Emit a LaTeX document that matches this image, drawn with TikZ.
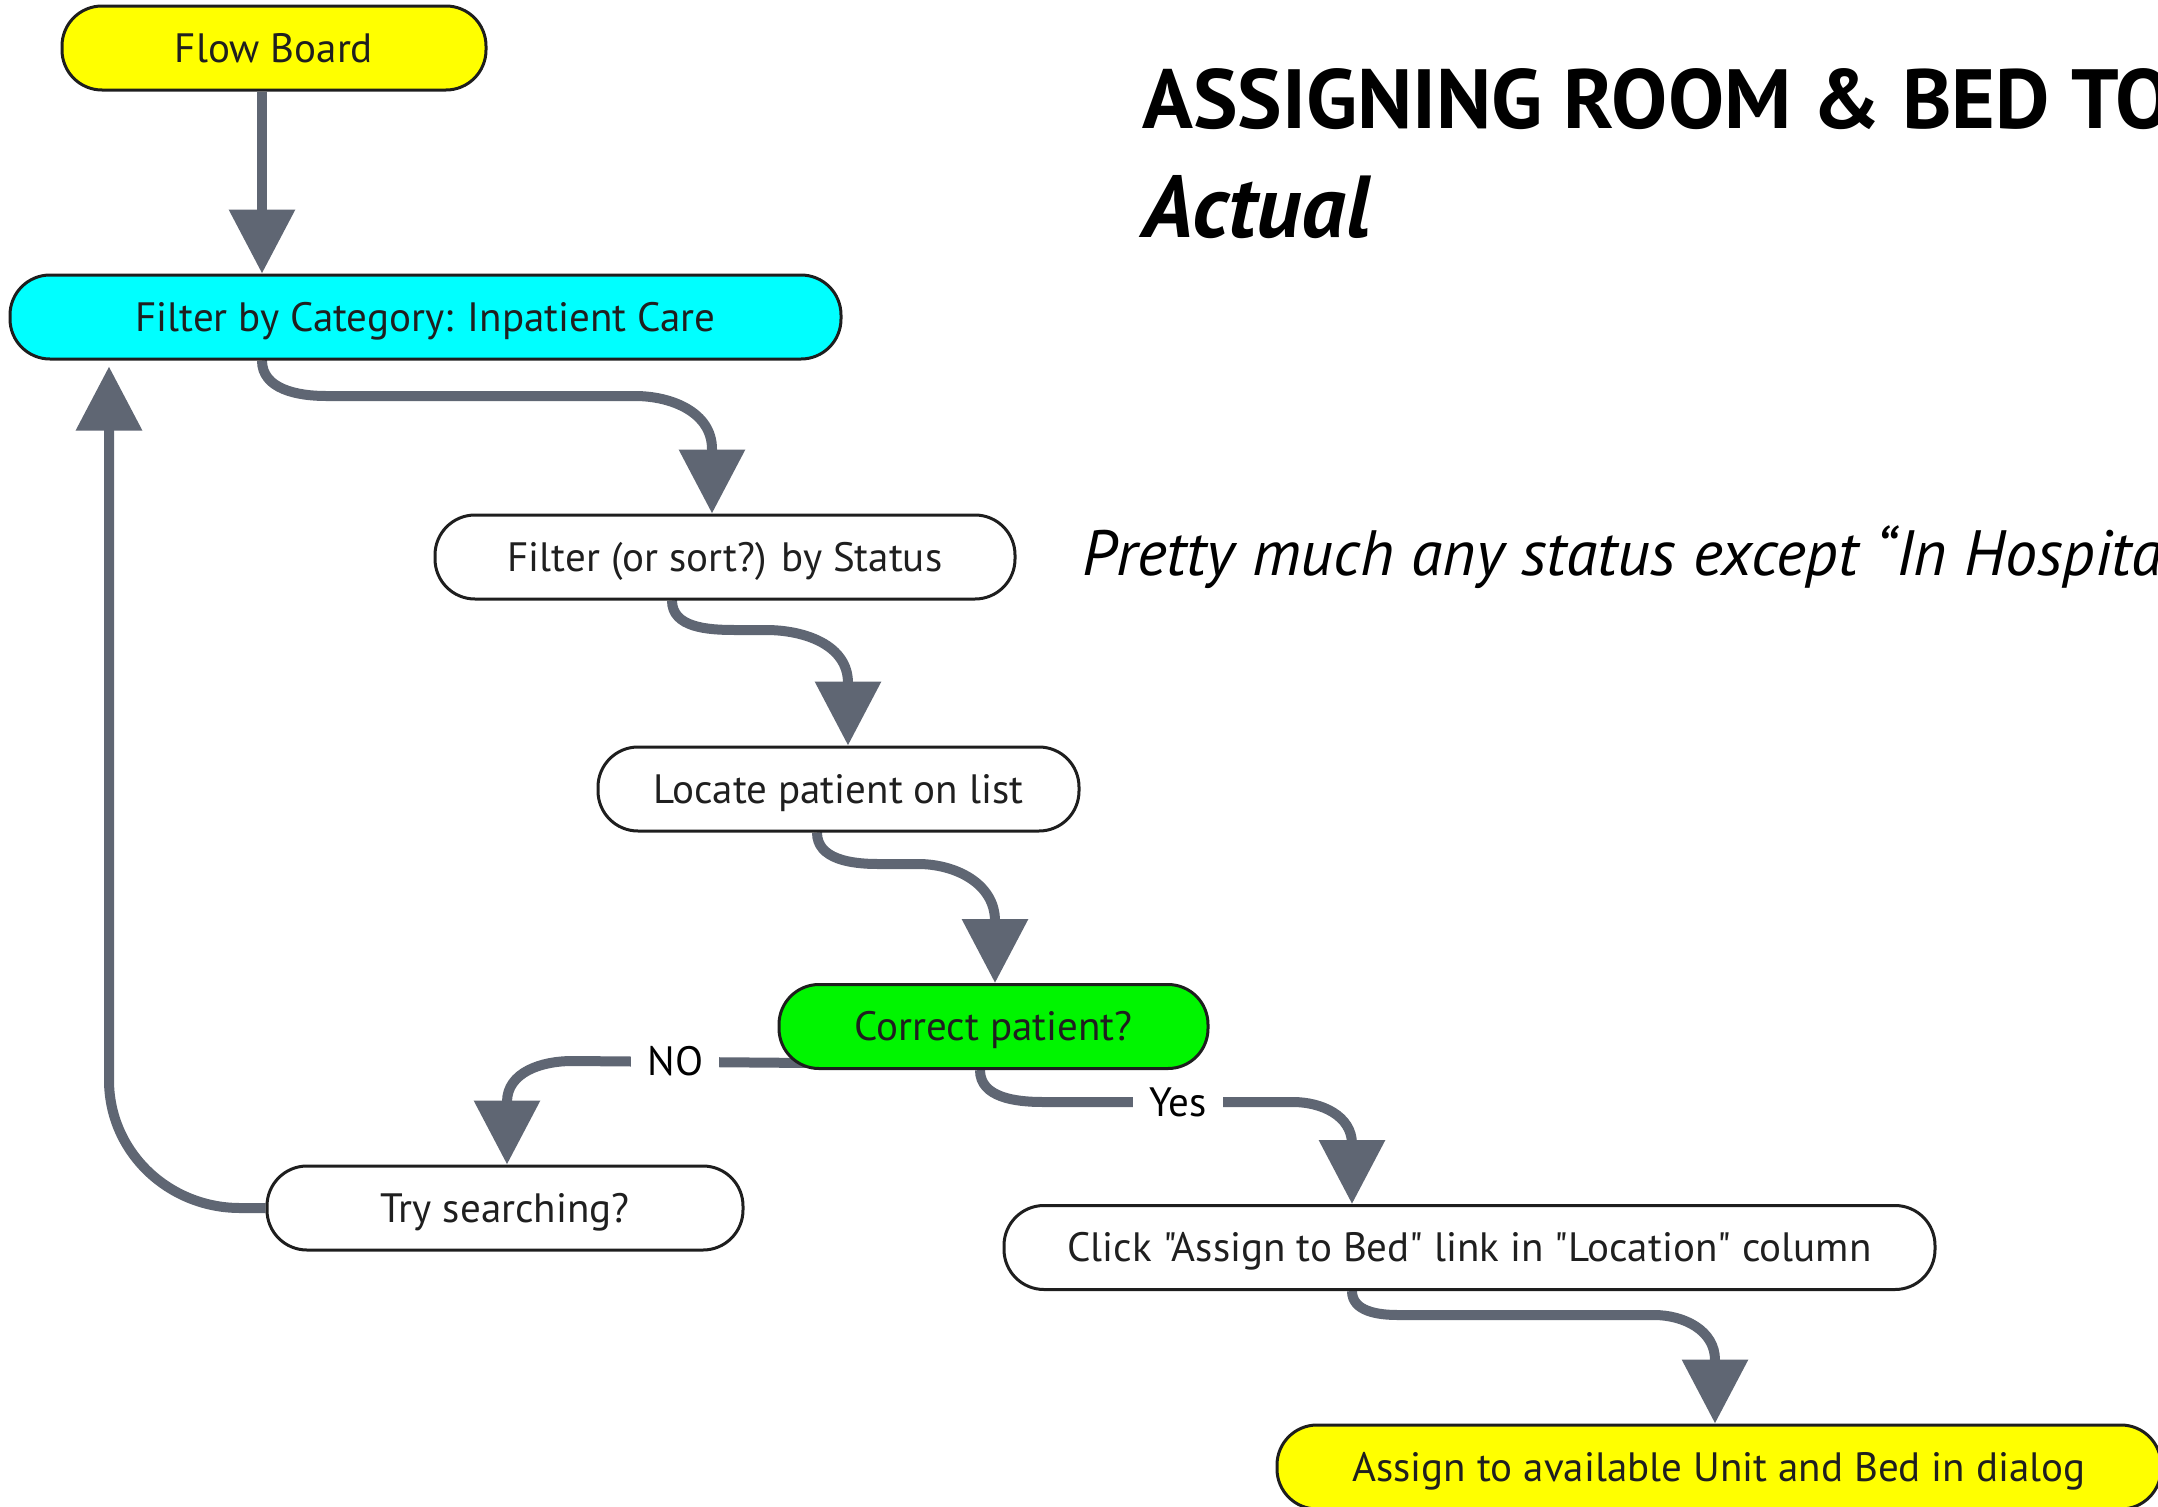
\documentclass[tikz,border=0pt]{standalone}
\usepackage{fontspec}
\setmainfont{PT Sans}[Ligatures=TeXOff]
\usetikzlibrary{arrows.meta,calc,backgrounds}
\definecolor{linec}{HTML}{5F6673}
\definecolor{bordc}{HTML}{1E1E1E}
\definecolor{yell}{HTML}{FFFF00}
\definecolor{cyanf}{HTML}{00FFFF}
\definecolor{greenf}{HTML}{00F500}
\newcommand{\nodefont}{\fontsize{41}{49}\selectfont}
\begin{document}
\begin{tikzpicture}[x=1pt,y=1pt,
  box/.style={draw=bordc, line width=3pt, rounded corners=40pt, minimum height=84pt, inner sep=0pt, text height=28pt, text depth=0pt, font=\nodefont, text=black!88},
  conn/.style={draw=linec, line width=10pt, -{Triangle[length=64pt,width=64pt]}},
  lbl/.style={fill=white, inner xsep=16pt, inner ysep=3pt, text height=28pt, text depth=0pt, font=\nodefont, text=black},
  ttl/.style={inner sep=0pt, anchor=base west}]
\clip (0,0) rectangle (2158,-1507);

\node[box, fill=yell, minimum width=424pt] (fb) at (274,-48) {Flow Board};
\node[box, fill=cyanf, minimum width=831pt] (cat) at (425.5,-317) {Filter by Category: Inpatient Care};
\node[box, fill=white, minimum width=580pt] (st) at (725,-557) {Filter (or sort?) by Status};
\node[box, fill=white, minimum width=481pt] (loc) at (838.5,-789) {Locate patient on list};
\node[box, fill=greenf, minimum width=429pt] (cor) at (993.5,-1026.5) {Correct patient?};
\node[box, fill=white, minimum width=476pt] (try) at (505,-1208) {Try searching?};
\node[box, fill=white, minimum width=931pt] (click) at (1469.5,-1247.5) {Click "Assign to Bed" link in "Location" column};
\node[box, fill=yell, minimum width=884pt] (asg) at (1719,-1467) {Assign to available Unit and Bed in dialog};

\node[ttl, font=\fontsize{84}{96}\selectfont\bfseries] (title) at (1142,-128) {ASSIGNING ROOM \& BED TO};
\node[ttl, font=\fontsize{88}{96}\selectfont\bfseries\itshape] (actual) at (1142,-237) {Actual};
\node[ttl, font=\fontsize{64}{76}\selectfont\itshape] (note) at (1082,-575) {Pretty much any status except “In Hospital”};

\begin{scope}[on background layer]
\draw[conn] (262,0 |- fb.south) -- (262,0 |- cat.north);
\draw[conn] (262,0 |- cat.south) to[out=-90,in=180] (326,-396) -- (635,-396) to[out=0,in=90] (712,-449) -- (712,0 |- st.north);
\draw[conn] (672,0 |- st.south) to[out=-90,in=180] (735,-630) -- (766,-630) to[out=0,in=90] (848,-683) -- (848,0 |- loc.north);
\draw[conn] (817,0 |- loc.south) to[out=-90,in=180] (878,-864) -- (918,-864) to[out=0,in=90] (995,-921) -- (995,0 |- cor.north);
\draw[conn] (980,0 |- cor.south) to[out=-90,in=180] (1043,-1102) -- node[lbl,pos=0.54] (yes) {Yes} (1293,-1102) to[out=0,in=90] (1352,-1144) -- (1352,0 |- click.north);
\draw[conn] (1352,0 |- click.south) to[out=-90,in=180] (1398,-1315) -- (1654,-1315) to[out=0,in=90] (1715,-1360) -- (1715,0 |- asg.north);
\draw[conn] ($(cor.south west)+(33,7)$) -- node[lbl,pos=0.567] (no) {NO} (572,-1061) to[out=180,in=90] (507,-1102) -- (507,0 |- try.north);
\draw[conn] (try.west) -- (240,-1208) to[out=180,in=-90] (109,-1080) -- ($(109,0 |- cat.south)+(0,-6)$);
\end{scope}
\end{tikzpicture}
\end{document}
